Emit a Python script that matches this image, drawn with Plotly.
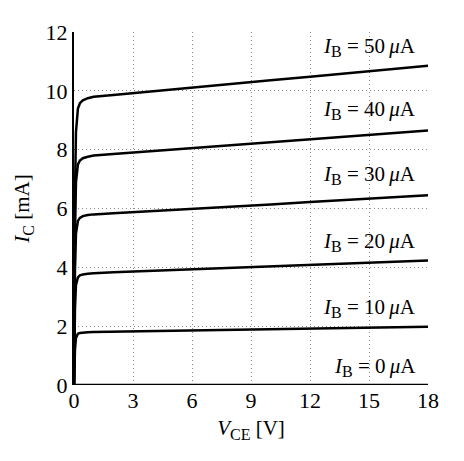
import plotly.graph_objects as go

vce = [0, 0.02, 0.05, 0.1, 0.15, 0.2, 0.3, 0.45, 0.7, 1, 2, 4, 6, 8, 10, 12, 14, 16, 18]

ic_50 = [0, 3.0, 6.5, 8.6, 9.15, 9.4, 9.58, 9.68, 9.75, 9.8, 9.86, 9.99, 10.11, 10.23, 10.36, 10.48, 10.61, 10.73, 10.85]
ic_40 = [0, 2.4, 5.2, 6.9, 7.3, 7.5, 7.63, 7.71, 7.76, 7.8, 7.85, 7.95, 8.05, 8.15, 8.25, 8.35, 8.45, 8.55, 8.65]
ic_30 = [0, 1.8, 3.9, 5.15, 5.45, 5.58, 5.68, 5.74, 5.78, 5.8, 5.84, 5.91, 5.99, 6.07, 6.14, 6.22, 6.29, 6.37, 6.45]
ic_20 = [0, 1.2, 2.6, 3.4, 3.58, 3.66, 3.73, 3.76, 3.78, 3.8, 3.83, 3.88, 3.93, 3.98, 4.03, 4.08, 4.13, 4.18, 4.23]
ic_10 = [0, 0.55, 1.2, 1.6, 1.7, 1.74, 1.77, 1.785, 1.795, 1.8, 1.81, 1.83, 1.85, 1.88, 1.9, 1.92, 1.94, 1.96, 1.98]
ic_0 = [0] * len(vce)

curves = [ic_0, ic_10, ic_20, ic_30, ic_40, ic_50]
ib_labels = ["0", "10", "20", "30", "40", "50"]
label_y = [0.61, 2.62, 4.86, 7.14, 9.35, 11.49]
label_x = 17.5

x_ticks = [0, 3, 6, 9, 12, 15, 18]
y_ticks = [0, 2, 4, 6, 8, 10, 12]

FONT = "Liberation Serif"
SUB = '<sub><span style="font-size:16px">{}</span></sub>'

fig = go.Figure()
for ic in curves:
    fig.add_trace(go.Scatter(x=vce, y=ic, mode="lines",
                             line=dict(color="black", width=2.5),
                             showlegend=False, hoverinfo="skip", cliponaxis=False))

for lab, ly in zip(ib_labels, label_y):
    fig.add_annotation(x=label_x, y=ly, xref="x", yref="y",
                       text="<i>I</i>" + SUB.format("B") + f" = {lab}\u2009<i>\u03bc</i>A",
                       showarrow=False, xanchor="right", yanchor="middle",
                       font=dict(family=FONT, size=21, color="black"))

fig.update_layout(
    width=464, height=461,
    margin=dict(l=74, r=36, t=32, b=76),
    paper_bgcolor="white", plot_bgcolor="white",
    font=dict(family=FONT, size=21, color="black"),
    xaxis=dict(range=[0, 18], tickvals=x_ticks, ticktext=[str(t) for t in x_ticks],
               tickfont=dict(family=FONT, size=22),
               showgrid=True, gridcolor="#8c8c8c", griddash="1px,3px", gridwidth=1,
               zeroline=False, showline=False, ticks="",
               title=dict(text="<i>V</i>" + SUB.format("CE") + " [V]", font=dict(family=FONT, size=21), standoff=8)),
    yaxis=dict(range=[0, 12], tickvals=y_ticks, ticktext=[str(t) for t in y_ticks],
               tickfont=dict(family=FONT, size=22),
               showgrid=True, gridcolor="#8c8c8c", griddash="1px,3px", gridwidth=1,
               zeroline=False, showline=True, linecolor="black", linewidth=2, ticks="",
               title=dict(text="<i>I</i>" + SUB.format("C") + " [mA]", font=dict(family=FONT, size=21), standoff=10)),
)

fig.write_html("out.html")
